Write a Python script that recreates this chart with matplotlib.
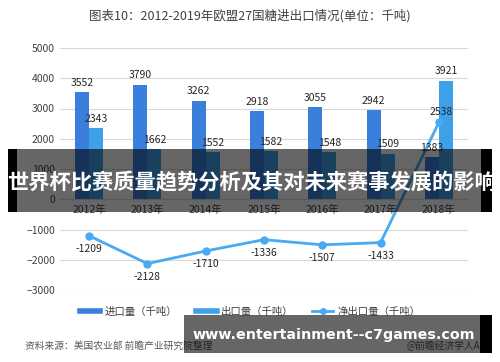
import numpy as np
import matplotlib
matplotlib.use("Agg")
import matplotlib.pyplot as plt
from matplotlib.patches import Rectangle
from matplotlib.lines import Line2D

plt.rcParams['font.family'] = ['Noto Sans CJK SC', 'DejaVu Sans']

years = ["2012年", "2013年", "2014年", "2015年", "2016年", "2017年", "2018年"]
imports = [3552, 3790, 3262, 2918, 3055, 2942, 1383]
exports = [2343, 1662, 1552, 1582, 1548, 1509, 3921]
net_exports = [-1209, -2128, -1710, -1336, -1507, -1433, 2538]

c_imp = "#3A7FDC"
c_exp = "#3FA0EA"
c_net = "#48AAF0"

W, H = 500, 362
fig = plt.figure(figsize=(W / 100, H / 100), dpi=100)
ax = fig.add_axes([60 / W, 1 - 290 / H, 408 / W, 242 / H])

x = np.arange(len(years))
bw = 0.24
ax.bar(x - bw / 2, imports, bw, color=c_imp, zorder=2)
ax.bar(x + bw / 2, exports, bw, color=c_exp, zorder=2)
ax.plot(x, net_exports, color=c_net, lw=2, marker="o", ms=5, zorder=3)

for i in range(len(years)):
    ax.annotate(str(imports[i]), (x[i] - bw / 2, imports[i]), xytext=(0, 3),
                textcoords="offset points", ha="center", va="bottom", fontsize=7.5, color="#262626")
    ax.annotate(str(exports[i]), (x[i] + bw / 2, exports[i]), xytext=(0, 3),
                textcoords="offset points", ha="center", va="bottom", fontsize=7.5, color="#262626")
    if net_exports[i] > 0:
        ax.annotate(str(net_exports[i]), (x[i], net_exports[i]), xytext=(2, 4),
                    textcoords="offset points", ha="center", va="bottom", fontsize=7.5, color="#262626")
    else:
        ax.annotate(str(net_exports[i]), (x[i], net_exports[i]), xytext=(0, -6),
                    textcoords="offset points", ha="center", va="top", fontsize=7.5, color="#262626")

ax.set_xlim(-0.5, len(years) - 0.5)
ax.set_ylim(-3000, 5000)
ax.set_yticks(range(-3000, 5001, 1000))
ax.set_xticks(x)
ax.set_xticklabels(years)
ax.grid(axis="y", color="#D9D9D9", lw=0.8, zorder=0)
ax.set_axisbelow(True)
for s in ["top", "right", "left"]:
    ax.spines[s].set_visible(False)
ax.spines["bottom"].set_position(("data", 0))
ax.spines["bottom"].set_visible(False)
ax.tick_params(axis="both", length=0, labelsize=7.5, labelcolor="#404040")
ax.tick_params(axis="x", pad=4)

fig.text(0.5, 1 - 16 / H, "图表10：2012-2019年欧盟27国糖进出口情况(单位：千吨)",
         ha="center", va="center", fontsize=9, color="#404040")

handles = [Line2D([], [], color=c_imp, lw=4),
           Line2D([], [], color=c_exp, lw=4),
           Line2D([], [], color=c_net, lw=2, marker="o", ms=4)]
fig.legend(handles, ["进口量（千吨）", "出口量（千吨）", "净出口量（千吨）"],
           loc="center", bbox_to_anchor=(0.5, 1 - 312 / H), ncol=3, frameon=False,
           fontsize=7.5, handlelength=2.0, handletextpad=0.4, columnspacing=1.8,
           labelcolor="#404040")

fig.text(25 / W, 1 - 346 / H, "资料来源：美国农业部 前瞻产业研究院整理",
         ha="left", va="center", fontsize=7, color="#595959")
fig.text(492 / W, 1 - 346 / H, "@前瞻经济学人APP",
         ha="right", va="center", fontsize=7, color="#595959")

# overlay banners
fig.add_artist(Rectangle((17 / W, 1 - 212 / H), 464 / W, 63 / H, transform=fig.transFigure,
                         facecolor="black", alpha=0.6, lw=0, zorder=5))
fig.add_artist(Rectangle((8 / W, 1 - 212 / H), 9 / W, 63 / H, transform=fig.transFigure,
                         facecolor="black", lw=0, zorder=5))
fig.add_artist(Rectangle((481 / W, 1 - 212 / H), 11 / W, 63 / H, transform=fig.transFigure,
                         facecolor="black", lw=0, zorder=5))
fig.text(251 / W, 1 - 183 / H, "世界杯比赛质量趋势分析及其对未来赛事发展的影响",
         ha="center", va="center", fontsize=15.3, fontweight="bold", color="white", zorder=6)

fig.add_artist(Rectangle((184 / W, 1 - 353 / H), 296 / W, 38 / H, transform=fig.transFigure,
                         facecolor="black", alpha=0.6, lw=0, zorder=5))
fig.add_artist(Rectangle((480 / W, 1 - 353 / H), 12 / W, 38 / H, transform=fig.transFigure,
                         facecolor="black", lw=0, zorder=5))
fig.text(334 / W, 1 - 335 / H, "www.entertainment--c7games.com", family="DejaVu Sans",
         ha="center", va="center", fontsize=10.3, fontweight="bold", color="white", zorder=6)

fig.savefig("out.png", dpi=100)
